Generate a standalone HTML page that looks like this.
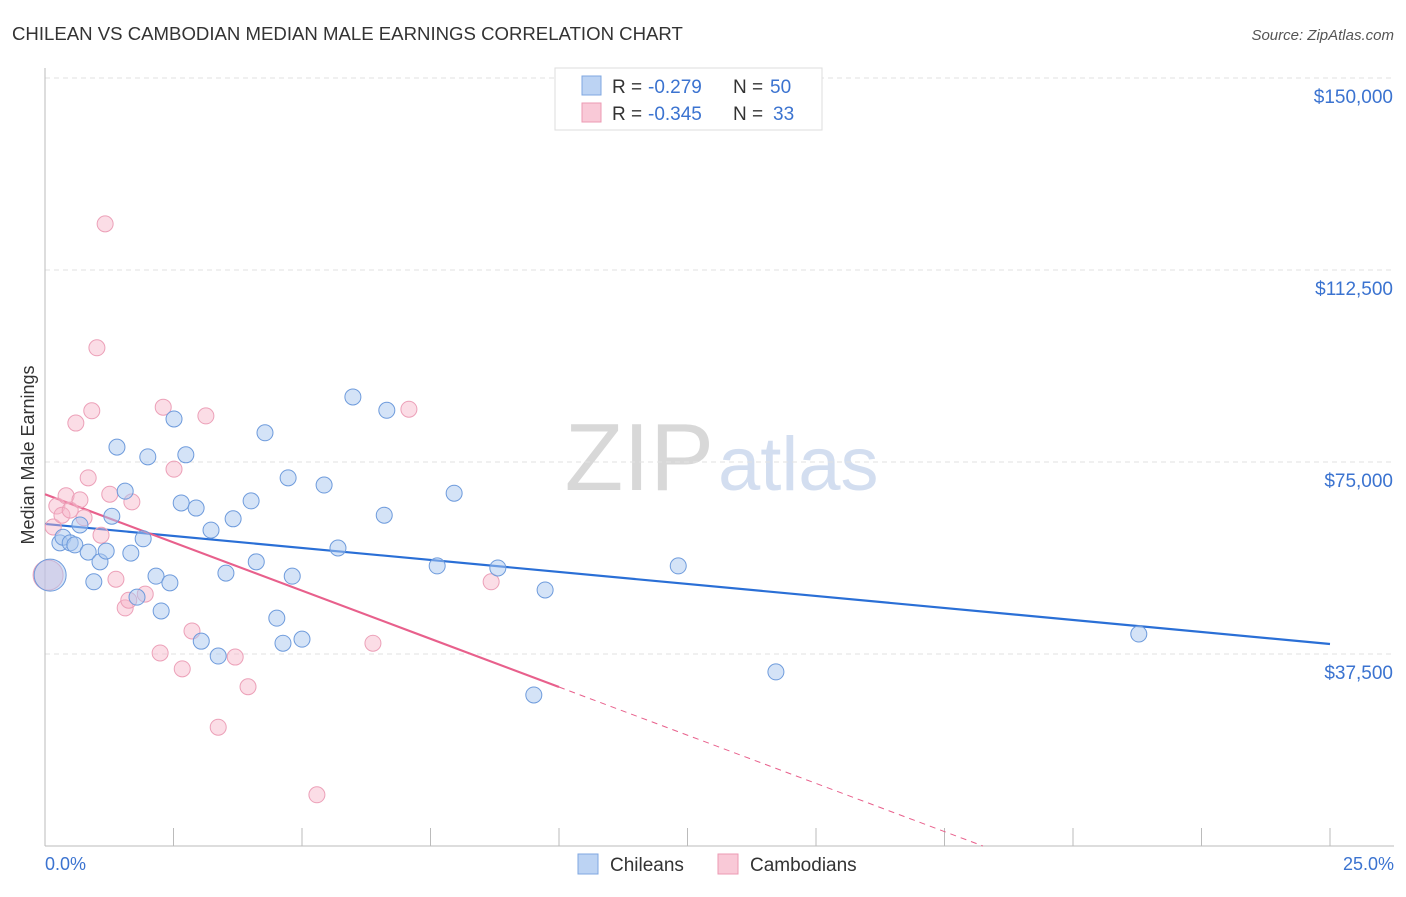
<!DOCTYPE html>
<html><head><meta charset="utf-8"><style>
body{margin:0;background:#fff;font-family:"Liberation Sans",sans-serif;}
svg text{font-family:"Liberation Sans",sans-serif;}
</style></head><body>
<svg width="1406" height="892">
<text x="12" y="40" font-size="18.6" fill="#333">CHILEAN VS CAMBODIAN MEDIAN MALE EARNINGS CORRELATION CHART</text>
<text x="1394" y="40" font-size="15" fill="#555" font-style="italic" text-anchor="end">Source: ZipAtlas.com</text>
<text x="714" y="490" font-size="96" fill="#d8d8d8" font-family="Liberation Serif" text-anchor="end">ZIP</text>
<text x="718" y="490" font-size="76" fill="#d3def0">atlas</text>
<g id="grid"></g><g id="axes"></g><g id="lines"></g><g id="pts"></g>
<text transform="translate(34,455) rotate(-90)" font-size="18" fill="#333" text-anchor="middle">Median Male Earnings</text>
<text x="45" y="870" font-size="18" fill="#3b73d0">0.0%</text>
<text x="1394" y="870" font-size="18" fill="#3b73d0" text-anchor="end">25.0%</text>
<g>
<rect x="555" y="68" width="267" height="62" fill="#fff" stroke="#ddd"/>
<rect x="582" y="76" width="19" height="19" fill="#bcd3f3" stroke="#7fa7e0"/>
<rect x="582" y="103" width="19" height="19" fill="#f9c9d7" stroke="#ec9ab3"/>
<text x="612" y="93" font-size="19" fill="#333">R = <tspan x="648" fill="#3b73d0">-0.279</tspan><tspan x="733">N = </tspan><tspan x="770" fill="#3b73d0">50</tspan></text>
<text x="612" y="120" font-size="19" fill="#333">R = <tspan x="648" fill="#3b73d0">-0.345</tspan><tspan x="733">N = </tspan><tspan x="773" fill="#3b73d0">33</tspan></text>
</g>
<g>
<rect x="578" y="854" width="20" height="20" fill="#bcd3f3" stroke="#7fa7e0"/>
<text x="610" y="871" font-size="19" fill="#333">Chileans</text>
<rect x="718" y="854" width="20" height="20" fill="#f9c9d7" stroke="#ec9ab3"/>
<text x="750" y="871" font-size="19" fill="#333">Cambodians</text>
</g>
</svg>
<script>
const yTicks=[37500,75000,112500,150000];
const yTickLabels=["$37,500","$75,000","$112,500","$150,000"];
const chileX=[0.10,0.29,0.35,0.49,0.58,0.68,0.84,0.95,1.07,1.19,1.30,1.40,1.56,1.67,1.79,1.91,2.00,2.16,2.26,2.43,2.51,2.65,2.74,2.94,3.04,3.23,3.37,3.52,3.66,4.01,4.11,4.28,4.51,4.63,4.73,4.81,5.00,5.43,5.70,5.99,6.60,6.65,7.63,7.96,8.81,9.51,9.73,12.32,14.22,21.28];
const chileY=[52900,59200,60300,59200,58800,62700,57400,51600,55500,57600,64400,77900,69300,57200,48600,60000,76000,52700,45900,51400,83400,67000,76400,66000,40000,61700,37100,53300,63900,67400,55500,80700,44500,39600,71900,52700,40400,70500,58200,87700,64600,85100,54700,68900,54300,29500,50000,54700,34000,41400];
const cambX=[0.06,0.16,0.23,0.33,0.41,0.49,0.60,0.68,0.76,0.84,0.91,1.01,1.09,1.17,1.26,1.38,1.56,1.63,1.69,1.95,2.24,2.30,2.51,2.67,2.86,3.13,3.37,3.70,3.95,5.29,6.38,7.08,8.68];
const cambY=[52900,62300,66400,64600,68400,65600,82600,67600,64100,71900,85000,97300,60700,121500,68700,52100,46500,48000,67200,49200,37700,85700,73600,34600,42000,84000,23200,36900,31100,10000,39600,85300,51600];
const chileTrend=[62900,39450];
const cambTrend=[68700,-3765];
const NS="http://www.w3.org/2000/svg";
const X=v=>45+v*51.4, Y=v=>846-v/195.3;
function mk(t,a,p){const e=document.createElementNS(NS,t);for(const k in a)e.setAttribute(k,a[k]);document.getElementById(p).appendChild(e);return e;}
yTicks.forEach((t,i)=>{
 const l=mk('line',{x1:45,x2:1394,y1:Y(t),y2:Y(t),stroke:'#e2e2e2','stroke-dasharray':'5,4'},'grid');
 
 
 const tx=mk('text',{x:1393,y:Y(t)+25,'font-size':19,fill:'#3b73d0','text-anchor':'end'},'grid');
 tx.textContent=yTickLabels[i];
 
 
});
mk('line',{x1:45,x2:45,y1:68,y2:846,stroke:'#bbb'},'axes');
mk('line',{x1:45,x2:1394,y1:846,y2:846,stroke:'#bbb'},'axes');
for(let i=0;i<=10;i++){const t=mk('line',{x1:X(i*2.5),x2:X(i*2.5),y1:828,y2:846,stroke:'#bbb'},'axes');
 
 }
const bl=mk('line',{x1:X(0),y1:Y(chileTrend[0]),x2:X(25),y2:Y(chileTrend[1]),stroke:'#2a6fd6','stroke-width':2.2},'lines');


const zx=-cambTrend[0]/cambTrend[1];
const pl=mk('line',{x1:X(0),y1:Y(cambTrend[0]),x2:X(10),y2:Y(cambTrend[0]+10*cambTrend[1]),stroke:'#e8608c','stroke-width':2.2},'lines');


const pd=mk('line',{x1:X(10),y1:Y(cambTrend[0]+10*cambTrend[1]),x2:X(zx),y2:Y(0),stroke:'#e8608c','stroke-width':1,'stroke-dasharray':'6,5'},'lines');


cambX.forEach((x,i)=>{const c=mk('circle',{cx:X(x),cy:Y(cambY[i]),r:i==0?15:8,fill:'rgba(246,180,200,0.45)',stroke:'#eca0b8','stroke-width':1},'pts');
 
 });
chileX.forEach((x,i)=>{const c=mk('circle',{cx:X(x),cy:Y(chileY[i]),r:i==0?16:8,fill:'rgba(170,200,240,0.5)',stroke:'#6e9bdc','stroke-width':1},'pts');
 
 });
</script>
</body></html>
